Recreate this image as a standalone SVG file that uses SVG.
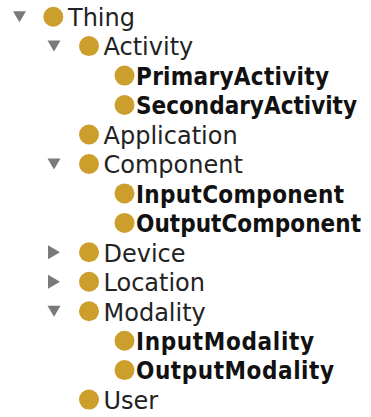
<svg xmlns="http://www.w3.org/2000/svg" width="371" height="417" viewBox="0 0 371 417">
  <defs>
    <style>
      .dot { fill: #CC9E2C; }
      .tri { fill: #7A7A7A; }
      .lbl { font-family: "DejaVu Sans", "Liberation Sans", sans-serif; font-size: 24px; fill: #222; }
      .sub { font-family: "DejaVu Sans Condensed", "DejaVu Sans", sans-serif; font-stretch: condensed; font-weight: bold; font-size: 24px; fill: #111; }
    </style>
    <polygon id="open" points="-6.5,-5.5 6.5,-5.5 0,5.5"/>
    <polygon id="closed" points="-6,-7 6,0 -6,7"/>
  </defs>
  <rect width="371" height="417" fill="#fff"/>

  <g id="connectors">
    <use href="#open" class="tri" x="19.5" y="16.7"/>
    <use href="#open" class="tri" x="54" y="46.1"/>
    <use href="#open" class="tri" x="54" y="164"/>
    <use href="#closed" class="tri" x="54" y="252.3"/>
    <use href="#closed" class="tri" x="54" y="281.8"/>
    <use href="#open" class="tri" x="54" y="311.2"/>
  </g>

  <g id="Thing"><circle class="dot" cx="53.3" cy="16.7" r="10"/><text class="lbl" x="68" y="26">Thing</text></g>
  <g id="Activity"><circle class="dot" cx="89" cy="46.1" r="10"/><text class="lbl" x="103.5" y="55.4">Activity</text></g>
  <g id="PrimaryActivity"><circle class="dot" cx="124.5" cy="75.6" r="10"/><text class="sub" x="136" y="84.9" textLength="193" lengthAdjust="spacing">PrimaryActivity</text></g>
  <g id="SecondaryActivity"><circle class="dot" cx="124.5" cy="105" r="10"/><text class="sub" x="136" y="114.3" textLength="221" lengthAdjust="spacing">SecondaryActivity</text></g>
  <g id="Application"><circle class="dot" cx="89" cy="134.5" r="10"/><text class="lbl" x="103.5" y="143.8">Application</text></g>
  <g id="Component"><circle class="dot" cx="89" cy="164" r="10"/><text class="lbl" x="103.5" y="173.3">Component</text></g>
  <g id="InputComponent"><circle class="dot" cx="124.5" cy="193.4" r="10"/><text class="sub" x="136" y="202.7" textLength="208" lengthAdjust="spacing">InputComponent</text></g>
  <g id="OutputComponent"><circle class="dot" cx="124.5" cy="222.9" r="10"/><text class="sub" x="136" y="232.2" textLength="225" lengthAdjust="spacing">OutputComponent</text></g>
  <g id="Device"><circle class="dot" cx="89" cy="252.3" r="10"/><text class="lbl" x="103.5" y="261.6">Device</text></g>
  <g id="Location"><circle class="dot" cx="89" cy="281.8" r="10"/><text class="lbl" x="103.5" y="291.1">Location</text></g>
  <g id="Modality"><circle class="dot" cx="89" cy="311.2" r="10"/><text class="lbl" x="103.5" y="320.5">Modality</text></g>
  <g id="InputModality"><circle class="dot" cx="124.5" cy="340.7" r="10"/><text class="sub" x="136" y="350" textLength="178" lengthAdjust="spacing">InputModality</text></g>
  <g id="OutputModality"><circle class="dot" cx="124.5" cy="370.1" r="10"/><text class="sub" x="136" y="379.4" textLength="198" lengthAdjust="spacing">OutputModality</text></g>
  <g id="User"><circle class="dot" cx="89" cy="399.6" r="10"/><text class="lbl" x="103.5" y="408.9">User</text></g>
</svg>
